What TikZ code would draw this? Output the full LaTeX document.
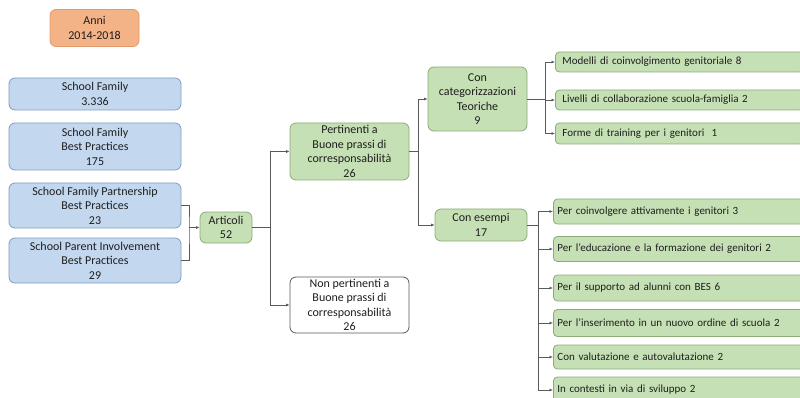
\documentclass[tikz,border=0pt]{standalone}
\usepackage{fontspec}
\setmainfont{Carlito}
\usetikzlibrary{arrows.meta}
\definecolor{bluefill}{HTML}{C3D8EF}
\definecolor{blueline}{HTML}{7F9DBF}
\definecolor{greenfill}{HTML}{C6E0B5}
\definecolor{greenline}{HTML}{8DAA78}
\definecolor{orangefill}{HTML}{F4B386}
\definecolor{orangeline}{HTML}{DE9C6E}
\definecolor{conn}{HTML}{5A5A5A}
\definecolor{txt}{HTML}{1E1E1E}
\begin{document}
\begin{tikzpicture}[x=1pt,y=-1pt,
  base/.style={rounded corners=6pt, line width=0.8pt, inner sep=0pt, align=center,
    text=txt, font=\fontsize{12}{14.5}\selectfont},
  bluebox/.style={base, draw=blueline, fill=bluefill, minimum width=172pt},
  greenbox/.style={base, draw=greenline, fill=greenfill},
  orangebox/.style={base, draw=orangeline, fill=orangefill},
  whitebox/.style={base, draw=conn, fill=white},
  leafbox/.style={base, draw=greenline, fill=greenfill, align=left, anchor=west,
    text width=234pt, inner xsep=7pt, minimum height=20pt, rounded corners=4pt,
    font=\fontsize{11}{14}\selectfont},
  leafboxb/.style={leafbox, text width=254pt, inner xsep=4pt},
  link/.style={draw=conn, line width=0.8pt},
  arr/.style={link, -{Latex[length=3.5pt,width=3pt]}}
]
\clip (0,0) rectangle (800,398);
\useasboundingbox (0,0) rectangle (800,398);
\fill[white] (0,0) rectangle (800,398);

\node[orangebox, minimum width=89pt, minimum height=37pt] (anni) at (94.5,28) {Anni\\2014-2018};

\node[bluebox, minimum height=32pt] (sf) at (95,94) {School Family\\3.336};
\node[bluebox, minimum height=47pt] (sfbp) at (95,146.5) {School Family\\Best Practices\\175};
\node[bluebox, minimum height=45pt] (sfp) at (95,205.5) {School Family Partnership\\Best Practices\\23};
\node[bluebox, minimum height=45pt] (spi) at (95,260.5) {School Parent Involvement\\Best Practices\\29};

\node[greenbox, minimum width=52pt, minimum height=31pt] (art) at (226,227.5) {Articoli\\52};

\node[greenbox, minimum width=119pt, minimum height=57pt] (pert) at (349.5,151.5) {Pertinenti a\\Buone prassi di\\corresponsabilità\\26};
\node[whitebox, minimum width=119pt, minimum height=56pt] (nonp) at (349.5,305) {Non pertinenti a\\Buone prassi di\\corresponsabilità\\26};

\node[greenbox, minimum width=99pt, minimum height=64pt] (concat) at (477.5,99) {Con\\categorizzazioni\\Teoriche\\9};
\node[greenbox, minimum width=92pt, minimum height=32pt] (conex) at (481,225) {Con esempi\\17};

\node[leafbox] (m1) at (555,62) {Modelli di coinvolgimento genitoriale 8};
\node[leafbox] (m2) at (555,100) {Livelli di collaborazione scuola-famiglia 2};
\node[leafbox, minimum height=21pt] (m3) at (555,133.5) {Forme di training per i genitori~~1};

\node[leafboxb, minimum height=25pt] (e1) at (553,211.5) {Per coinvolgere attivamente i genitori 3};
\node[leafboxb, minimum height=25pt] (e2) at (553,249) {Per l’educazione e la formazione dei genitori 2};
\node[leafboxb, minimum height=26pt] (e3) at (553,288) {Per il supporto ad alunni con BES 6};
\node[leafboxb, minimum height=27pt] (e4) at (553,323) {Per l’inserimento in un nuovo ordine di scuola 2};
\node[leafboxb, minimum height=24pt] (e5) at (553,357) {Con valutazione e autovalutazione 2};
\node[leafboxb, minimum height=26pt] (e6) at (553,390) {In contesti in via di sviluppo 2};

% connectors
\coordinate (j1) at (189,227.5);
\draw[link] (sfp.east) -| (j1) |- (spi.east);
\draw[arr] (j1) -- (art.west);

\coordinate (j2) at (270,227.5);
\draw[link] (art.east) -- (j2);
\draw[arr] (j2) |- (pert.west);
\draw[arr] (j2) |- (nonp.west);

\coordinate (j3) at (418,151.5);
\draw[link] (pert.east) -- (j3);
\draw[arr] (j3) |- (concat.west);
\draw[arr] (j3) |- (conex.west);

\coordinate (j4) at (545,99);
\draw[link] (concat.east) -- (j4);
\draw[arr] (j4) |- (m1.west);
\draw[arr] (j4) |- (m2.west);
\draw[arr] (j4) |- (m3.west);

\coordinate (j5) at (538,225);
\draw[link] (conex.east) -- (j5);
\draw[arr] (j5) |- (e1.west);
\draw[arr] (j5) |- (e2.west);
\draw[arr] (j5) |- (e3.west);
\draw[arr] (j5) |- (e4.west);
\draw[arr] (j5) |- (e5.west);
\draw[arr] (j5) |- (e6.west);
\end{tikzpicture}
\end{document}
